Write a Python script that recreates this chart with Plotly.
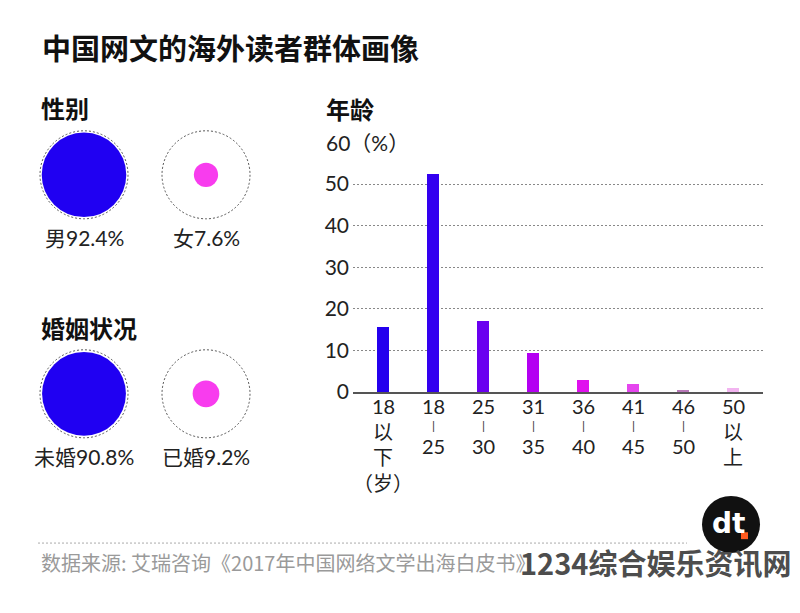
import plotly.graph_objects as go
import math

W, H = 800, 613
def px(x): return x / W
def py(y): return 1 - y / H

# ---------------- data ----------------
title_text = "中国网文的海外读者群体画像"
age_groups = ["18以下", "18-25", "25-30", "31-35", "36-40", "41-45", "46-50", "50以上"]
age_share = [15.5, 52.3, 17.0, 9.4, 2.9, 1.9, 0.3, 0.9]
bar_colors = ["#2400ee", "#3300f0", "#6a00f0", "#b400f2", "#e010ee", "#e545ee", "#b878b8", "#f2b4f0"]
xlab_lines = [["18", "以", "下", "（岁）"], ["18", "|", "25"], ["25", "|", "30"], ["31", "|", "35"],
              ["36", "|", "40"], ["41", "|", "45"], ["46", "|", "50"], ["50", "以", "上"]]
y_ticks = [0, 10, 20, 30, 40, 50, 60]
y_ticktext = ["0", "10", "20", "30", "40", "50", ""]

panel_titles = ["性别", "婚姻状况"]
gender_labels = ["男", "女"]
gender_share = [92.4, 7.6]
marriage_labels = ["未婚", "已婚"]
marriage_share = [90.8, 9.2]
circle_colors = ["#2000f2", "#f83cee"]

source_text = "数据来源: 艾瑞咨询《2017年中国网络文学出海白皮书》"
watermark_text = "1234综合娱乐资讯网"

FONT = "Lato, 'Noto Sans CJK SC', sans-serif"
CJK = "'Noto Sans CJK SC', sans-serif"
R = 44  # outer reference circle radius (px)

fig = go.Figure()

# ---------------- age bar chart ----------------
fig.add_trace(go.Bar(
    x=age_groups, y=age_share, marker=dict(color=bar_colors, line=dict(width=0)),
    width=0.24, xaxis="x", yaxis="y", hoverinfo="skip"))

# ---------------- circles panel ----------------
rows = [(gender_labels, gender_share), (marriage_labels, marriage_share)]
shapes = []
annotations = []
for r, (labels, shares) in enumerate(rows):
    idx = list(range(len(labels)))
    fig.add_trace(go.Scatter(
        x=idx, y=[r] * len(idx), mode="markers", xaxis="x2", yaxis="y2",
        marker=dict(size=[2 * R * math.sqrt(s / 100) for s in shares],
                    sizemode="diameter", color=circle_colors, line=dict(width=0), opacity=1),
        hoverinfo="skip"))
    for i, (lab, s) in enumerate(zip(labels, shares)):
        shapes.append(dict(type="circle", xref="x2", yref="y2", xsizemode="pixel", ysizemode="pixel",
                           xanchor=i, yanchor=r, x0=-R, x1=R, y0=-R, y1=R,
                           line=dict(color="#555", width=1, dash="2px,2px"), layer="below"))
        annotations.append(dict(x=i, y=r, xref="x2", yref="y2", yshift=-63, showarrow=False,
                                text=f"{lab}{s}%", font=dict(family=FONT, size=21, color="#222")))

# panel headings
annotations.append(dict(x=px(39), y=py(109), xref="paper", yref="paper", xanchor="left", yanchor="middle",
                        text=f"<b>{panel_titles[0]}</b>", showarrow=False,
                        font=dict(family=CJK, size=24, color="#111")))
annotations.append(dict(x=px(39), y=py(333), xref="paper", yref="paper", xanchor="left", yanchor="middle",
                        text=f"<b>{panel_titles[1]}</b>", showarrow=False,
                        font=dict(family=CJK, size=24, color="#111")))
annotations.append(dict(x=px(324), y=py(110), xref="paper", yref="paper", xanchor="left", yanchor="middle",
                        text="<b>年龄</b>", showarrow=False, font=dict(family=CJK, size=24, color="#111")))
# title
annotations.append(dict(x=px(40), y=py(48), xref="paper", yref="paper", xanchor="left", yanchor="middle",
                        text=f"<b>{title_text}</b>", showarrow=False, font=dict(family=CJK, size=29, color="#111")))
# 60 (%) label covering the start of top grid line
annotations.append(dict(x=px(324), y=60, xref="paper", yref="y", xanchor="left", yanchor="middle",
                        text="60（%）", showarrow=False, bgcolor="white", borderpad=1,
                        font=dict(family=FONT, size=21, color="#222")))

# x labels (multi-line, stacked)
for cat, lines in zip(age_groups, xlab_lines):
    if "|" in lines:
        offs = [14, 33, 54]
    else:
        offs = [14, 40, 65, 91]
    for ln, off in zip(lines, offs):
        if ln == "|":
            f = dict(family=FONT, size=12, color="#333")
        else:
            f = dict(family=FONT, size=20, color="#222")
        annotations.append(dict(x=cat, y=0, xref="x", yref="y", yanchor="middle", yshift=-off,
                                text=ln, showarrow=False, font=f))

# source + separator + watermark + logo
shapes.append(dict(type="line", xref="paper", yref="paper", x0=px(38), x1=px(687), y0=py(553), y1=py(553),
                   line=dict(color="#aaa", width=1, dash="2px,2px")))
annotations.append(dict(x=px(39), y=py(573), xref="paper", yref="paper", xanchor="left", yanchor="middle",
                        text=source_text, showarrow=False, font=dict(family=CJK, size=20, color="#9a9a9a")))
shapes.append(dict(type="circle", xref="paper", yref="paper", x0=px(702), x1=px(760), y0=py(563), y1=py(505),
                   fillcolor="#111", line=dict(width=0)))
annotations.append(dict(x=px(728), y=py(533), xref="paper", yref="paper", xanchor="center", yanchor="middle",
                        text="<b>dt</b>", showarrow=False,
                        font=dict(family="'DejaVu Sans', sans-serif", size=28, color="white")))
shapes.append(dict(type="rect", xref="paper", yref="paper", x0=px(741), x1=px(748), y0=py(549), y1=py(542),
                   fillcolor="#ff5a1f", line=dict(width=0)))
annotations.append(dict(x=px(793), y=py(572), xref="paper", yref="paper", xanchor="right", yanchor="middle",
                        text=f"<b>{watermark_text}</b>", showarrow=False,
                        font=dict(family=CJK, size=29, color="#4d4d4d")))

fig.update_layout(
    width=W, height=H, margin=dict(l=0, r=0, t=0, b=0),
    paper_bgcolor="white", plot_bgcolor="rgba(0,0,0,0)", showlegend=False,
    bargap=0,
    xaxis=dict(domain=[px(353), px(763)], range=[-0.6, 7.6], type="category",
               showticklabels=False, showgrid=False, zeroline=False,
               showline=True, linecolor="#555", linewidth=1.5, ticks=""),
    yaxis=dict(domain=[py(399.3), py(145)], range=[0, 60], tickvals=y_ticks, ticktext=y_ticktext,
               showgrid=True, gridcolor="#888", griddash="2px,2px", gridwidth=1, zeroline=False,
               showline=False, ticks="", ticklabelstandoff=3,
               tickfont=dict(family=FONT, size=21, color="#222")),
    xaxis2=dict(domain=[px(23), px(267)], range=[-0.5, 1.5], visible=False, anchor="y2"),
    yaxis2=dict(domain=[py(512.5), py(66.5)], range=[1.5, -0.5], visible=False, anchor="x2"),
    shapes=shapes, annotations=annotations,
)

fig.write_html("out.html")
